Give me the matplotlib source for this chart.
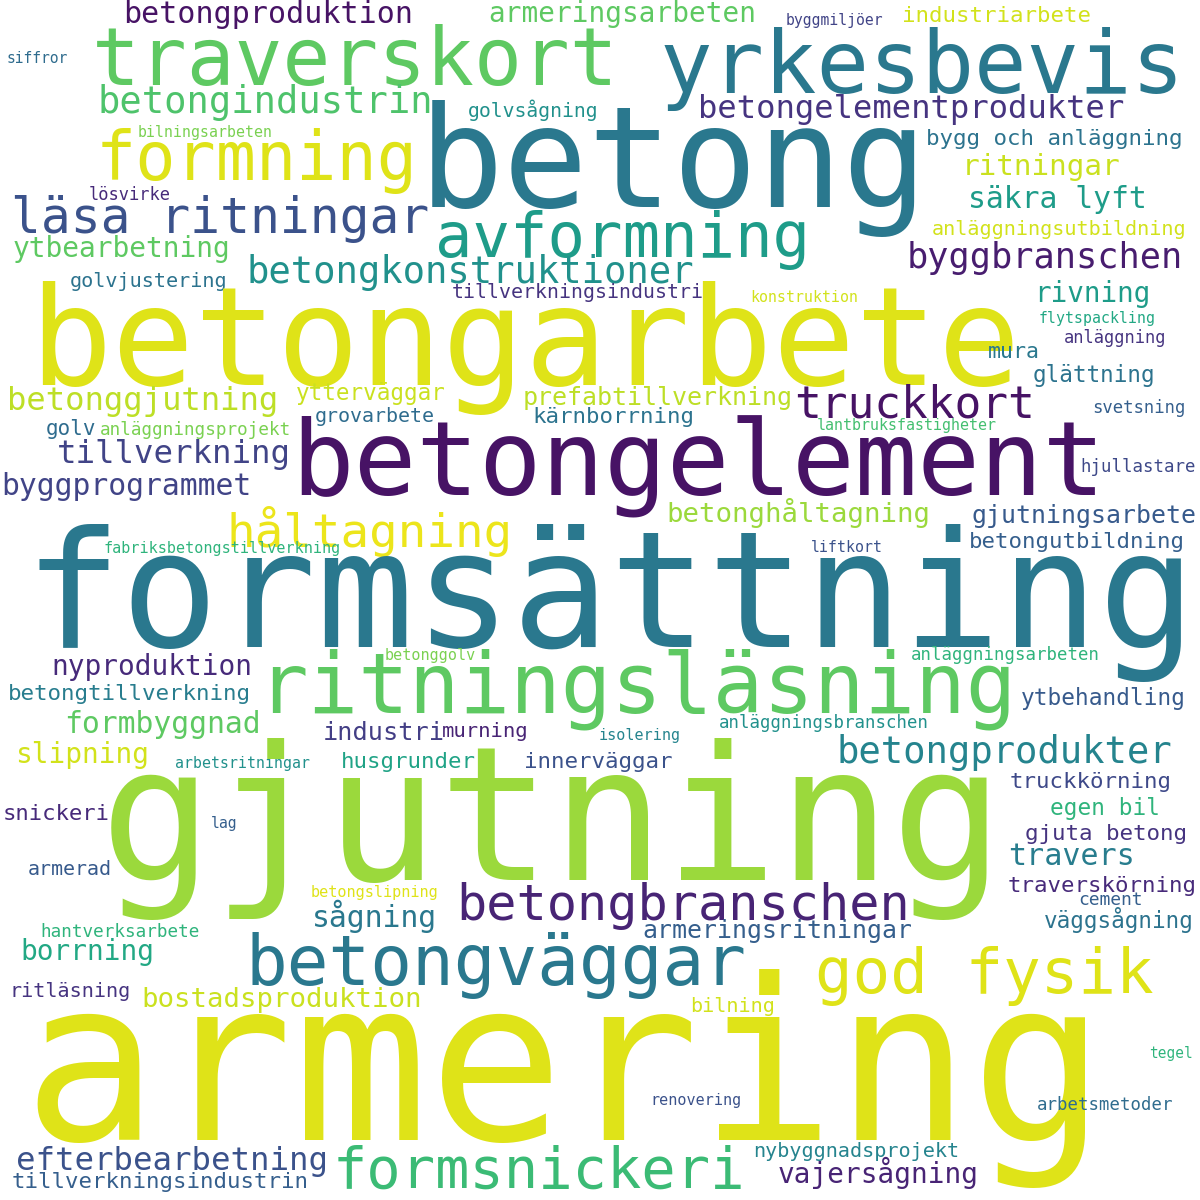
import matplotlib
matplotlib.use("Agg")
import matplotlib.pyplot as plt

# words of the cloud and their size (px of font em on a 1200 px canvas)
words = [
    "betongproduktion", "armeringsarbeten", "byggmiljöer", "industriarbete", "siffror",
    "traverskort", "yrkesbevis", "betong", "betongindustrin", "golvsågning",
    "betongelementprodukter", "formning", "bilningsarbeten", "bygg och anläggning", "ritningar",
    "lösvirke", "läsa ritningar", "avformning", "säkra lyft", "anläggningsutbildning",
    "ytbearbetning", "byggbranschen", "betongkonstruktioner", "golvjustering", "tillverkningsindustri",
    "konstruktion", "rivning", "betongarbete", "flytspackling", "anläggning",
    "mura", "glättning", "betonggjutning", "ytterväggar", "prefabtillverkning",
    "truckkort", "svetsning", "golv", "anläggningsprojekt", "grovarbete",
    "kärnborrning", "lantbruksfastigheter", "betongelement", "tillverkning", "hjullastare",
    "byggprogrammet", "håltagning", "betonghåltagning", "gjutningsarbete", "fabriksbetongstillverkning",
    "liftkort", "betongutbildning", "formsättning", "ritningsläsning", "betonggolv",
    "anläggningsarbeten", "nyproduktion", "betongtillverkning", "ytbehandling", "formbyggnad",
    "anläggningsbranschen", "industri", "murning", "isolering", "betongprodukter",
    "slipning", "arbetsritningar", "husgrunder", "innerväggar", "truckkörning",
    "gjutning", "snickeri", "lag", "egen bil", "gjuta betong",
    "travers", "armerad", "traverskörning", "betongbranschen", "betongslipning",
    "cement", "sågning", "hantverksarbete", "väggsågning", "armeringsritningar",
    "borrning", "betongväggar", "god fysik", "ritläsning", "bostadsproduktion",
    "bilning", "armering", "tegel", "renovering", "arbetsmetoder",
    "efterbearbetning", "tillverkningsindustrin", "formsnickeri", "nybyggnadsprojekt", "vajersågning",
]
weights = [
    30.0, 27.7, 14.8, 22.4, 14.6,
    79.5, 87.3, 141, 37.1, 19.8,
    32.3, 66.8, 14.9, 22.5, 29.4,
    17.0, 49.6, 62.4, 29.7, 20.1,
    27.9, 35.2, 37.3, 20.1, 19.9,
    14.9, 27.6, 137.3, 14.9, 17.1,
    21.7, 22.6, 32.3, 22.6, 25.0,
    44.5, 17.2, 20.9, 17.6, 20.0,
    22.4, 15.0, 104, 32.4, 17.4,
    29.8, 47.5, 27.4, 24.9, 15.1,
    14.9, 22.4, 162.4, 84.2, 15.1,
    17.4, 27.7, 22.5, 22.7, 29.7,
    17.4, 25.3, 20.5, 15.1, 37.2,
    27.7, 14.9, 22.4, 22.5, 22.4,
    188, 22.3, 14.7, 22.8, 22.5,
    30.0, 20.0, 22.4, 50.3, 15.2,
    17.9, 29.8, 17.6, 22.6, 24.9,
    27.7, 69.4, 62.5, 20.2, 27.4,
    20.2, 225, 14.5, 15.1, 17.4,
    32.4, 22.4, 57.0, 20.1, 27.7,
]

# layout: left edge and baseline of each word (px), colour as a viridis level
left = [
    126, 490, 787, 904, 8,
    98, 667, 430, 100, 469,
    701, 101, 139, 928, 964,
    90, 15, 440, 970, 933,
    15, 909, 249, 71, 453,
    751, 1036, 40, 1040, 1065,
    990, 1034, 10, 298, 525,
    798, 1094, 47, 101, 316,
    534, 818, 300, 59, 1082,
    4, 230, 669, 973, 105,
    812, 971, 36, 264, 386,
    912, 54, 10, 1023, 67,
    720, 325, 444, 600, 839,
    17, 176, 343, 526, 1011,
    115, 4, 212, 1052, 1027,
    1011, 29, 1009, 460, 312,
    1080, 314, 42, 1046, 644,
    23, 251, 820, 11, 144,
    692, 40, 1150, 652, 1038,
    19, 13, 337, 755, 780,
]
baseline = [
    23, 22, 25, 22, 63,
    85, 93, 207, 113, 117,
    118, 180, 137, 145, 175,
    200, 233, 257, 208, 235,
    257, 268, 283, 287, 298,
    302, 302, 385, 323, 343,
    358, 382, 410, 400, 405,
    418, 413, 435, 435, 422,
    423, 430, 495, 463, 472,
    495, 547, 522, 523, 553,
    552, 548, 647, 713, 660,
    660, 675, 700, 705, 733,
    728, 740, 737, 740, 763,
    763, 768, 768, 768, 788,
    880, 820, 828, 815, 840,
    865, 875, 892, 920, 897,
    905, 927, 937, 928, 938,
    960, 985, 993, 997, 1007,
    1012, 1140, 1058, 1105, 1110,
    1170, 1188, 1188, 1157, 1183,
]
level = [
    0.05, 0.75, 0.20, 0.93, 0.35,
    0.75, 0.40, 0.40, 0.72, 0.50,
    0.15, 0.95, 0.80, 0.38, 0.92,
    0.12, 0.25, 0.55, 0.55, 0.93,
    0.75, 0.08, 0.50, 0.38, 0.15,
    0.93, 0.55, 0.95, 0.60, 0.15,
    0.40, 0.38, 0.90, 0.92, 0.90,
    0.05, 0.30, 0.35, 0.80, 0.35,
    0.38, 0.70, 0.05, 0.20, 0.22,
    0.20, 0.97, 0.85, 0.28, 0.65,
    0.25, 0.30, 0.40, 0.75, 0.80,
    0.65, 0.12, 0.42, 0.28, 0.75,
    0.50, 0.18, 0.10, 0.45, 0.45,
    0.93, 0.50, 0.58, 0.25, 0.22,
    0.85, 0.12, 0.30, 0.65, 0.15,
    0.42, 0.28, 0.12, 0.10, 0.95,
    0.30, 0.40, 0.65, 0.38, 0.30,
    0.60, 0.40, 0.95, 0.15, 0.92,
    0.93, 0.95, 0.65, 0.25, 0.35,
    0.25, 0.30, 0.68, 0.45, 0.10,
]

W = H = 1200
DPI = 100
cmap = matplotlib.colormaps["viridis"]

fig = plt.figure(figsize=(W / DPI, H / DPI), dpi=DPI, facecolor="white")
ax = fig.add_axes([0, 0, 1, 1])
ax.set_xlim(0, W)
ax.set_ylim(H, 0)
ax.axis("off")

for word, size, x, y, lv in zip(words, weights, left, baseline, level):
    ax.text(x - 0.08 * size, y, word, fontsize=size * 72 / DPI,
            family="DejaVu Sans Mono", color=cmap(lv),
            ha="left", va="baseline")

fig.savefig("out.png", dpi=DPI, facecolor="white")
